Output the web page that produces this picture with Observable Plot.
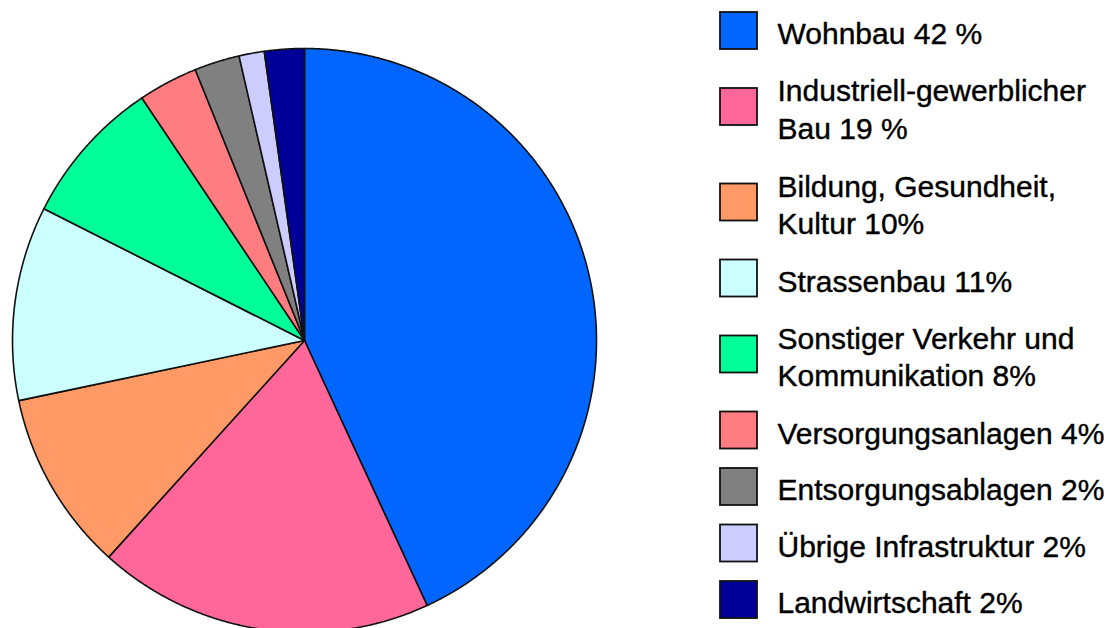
<!DOCTYPE html>
<html>
<head>
<meta charset="utf-8">
<script src="https://cdn.jsdelivr.net/npm/d3@7"></script>
<script src="https://cdn.jsdelivr.net/npm/@observablehq/plot@0.6"></script>
<style>
  html, body { margin: 0; padding: 0; background: #ffffff; overflow: hidden; }
  #chart svg { display: block; background: #ffffff; }
</style>
</head>
<body>
<div id="chart"></div>
<script>
// ---- data ----
const categories = [
  "Wohnbau",
  "Industriell-gewerblicher Bau",
  "Bildung, Gesundheit, Kultur",
  "Strassenbau",
  "Sonstiger Verkehr und Kommunikation",
  "Versorgungsanlagen",
  "Entsorgungsablagen",
  "Übrige Infrastruktur",
  "Landwirtschaft"
];
// shares as drawn in the pie (percent)
const shares = [43.1, 18.6, 10.0, 10.75, 8.15, 3.3, 2.5, 1.4, 2.2];
const legendLabels = [
  "Wohnbau 42 %",
  "Industriell-gewerblicher\nBau 19 %",
  "Bildung, Gesundheit,\nKultur 10%",
  "Strassenbau 11%",
  "Sonstiger Verkehr und\nKommunikation 8%",
  "Versorgungsanlagen 4%",
  "Entsorgungsablagen 2%",
  "Übrige Infrastruktur 2%",
  "Landwirtschaft 2%"
];
const colors = ["#0066FF", "#FF6699", "#FF9966", "#CCFFFF", "#00FF99", "#FF7C80", "#808080", "#CCCCFF", "#000099"];

// ---- layout (style) ----
const W = 1113, H = 628;
const cx = 304, cy = 340, R = 292;
const legendX1 = 720, legendX2 = 757, legendTextX = 777;
const lineStep = 39, gap = 17.5, legendTop = 11;

// slice outlines via d3.pie
const pie = d3.pie().sort(null).value(d => d.share);
const arcs = pie(categories.map((c, i) => ({cat: c, share: shares[i]})));
const slicePts = [];
arcs.forEach(a => {
  const cat = a.data.cat;
  slicePts.push({cat, px: 0, py: 0});
  const n = Math.max(2, Math.ceil((a.endAngle - a.startAngle) / (Math.PI / 720)));
  for (let k = 0; k <= n; k++) {
    const t = a.startAngle + (a.endAngle - a.startAngle) * k / n;
    slicePts.push({cat, px: Math.sin(t), py: -Math.cos(t)});
  }
  slicePts.push({cat, px: 0, py: 0});
});

// legend rows
let rowTop = legendTop;
const legendRows = categories.map((c, i) => {
  const lines = legendLabels[i].split("\n").length;
  const h = lines * lineStep;
  const row = {cat: c, label: legendLabels[i], y1: rowTop + h / 2 - 18.5, y2: rowTop + h / 2 + 18.5, yc: rowTop + h / 2};
  rowTop += h + gap;
  return row;
});

const chart = Plot.plot({
  width: W,
  height: H,
  margin: 0,
  style: {background: "#ffffff", fontFamily: "'Liberation Sans', Arial, sans-serif"},
  x: {type: "linear", domain: [0, W], range: [0, W], axis: null},
  y: {type: "linear", domain: [0, H], range: [0, H], axis: null},
  color: {type: "ordinal", domain: categories, range: colors},
  marks: [
    Plot.line(slicePts, {
      x: d => cx + R * d.px,
      y: d => cy + R * d.py,
      z: "cat",
      fill: "cat",
      stroke: "#111111",
      strokeWidth: 1.6,
      strokeLinejoin: "round",
      curve: "linear"
    }),
    Plot.rect(legendRows, {
      x1: () => legendX1,
      x2: () => legendX2,
      y1: "y1",
      y2: "y2",
      fill: "cat",
      stroke: "#111111",
      strokeWidth: 1.8
    }),
    Plot.text(legendRows, {
      x: () => legendTextX,
      y: "yc",
      text: "label",
      textAnchor: "start",
      lineAnchor: "middle",
      lineHeight: 1.25,
      fontSize: 30,
      dy: 1,
      fill: "#000000",
      stroke: "#000000",
      strokeWidth: 0.4,
      fontFamily: "'Liberation Sans', Arial, sans-serif"
    })
  ]
});
document.getElementById("chart").appendChild(chart);
</script>
</body>
</html>
